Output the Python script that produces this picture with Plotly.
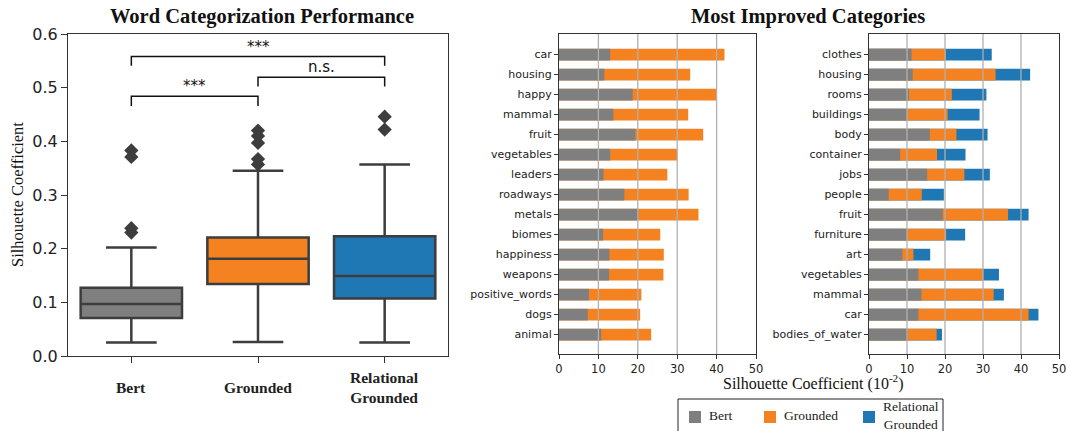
import plotly.graph_objects as go

# ---- Box plot summary statistics (silhouette coefficient) ----
models = ["Bert", "Grounded", "Relational Grounded"]
model_labels = ["Bert", "Grounded", "Relational<br>Grounded"]
box_lower = [0.025, 0.026, 0.025]
box_q1 = [0.071, 0.134, 0.107]
box_median = [0.097, 0.181, 0.149]
box_q3 = [0.127, 0.221, 0.223]
box_upper = [0.202, 0.345, 0.357]
outliers = {
    "Bert": [0.383, 0.371, 0.238, 0.230],
    "Grounded": [0.420, 0.410, 0.397, 0.367, 0.357],
    "Relational Grounded": [0.446, 0.422],
}

# ---- Most improved categories (values in 10^-2) ----
cats_left = ["car", "housing", "happy", "mammal", "fruit", "vegetables", "leaders",
             "roadways", "metals", "biomes", "happiness", "weapons",
             "positive_words", "dogs", "animal"]
bert_left = [13.0, 11.5, 18.7, 13.8, 19.4, 13.0, 11.3, 16.6, 20.1, 11.2, 12.8, 12.7, 7.6, 7.3, 10.7]
grounded_left = [42.0, 33.3, 39.9, 32.8, 36.6, 30.0, 27.5, 32.9, 35.4, 25.7, 26.6, 26.5, 20.9, 20.6, 23.4]

cats_right = ["clothes", "housing", "rooms", "buildings", "body", "container", "jobs",
              "people", "fruit", "furniture", "art", "vegetables", "mammal", "car",
              "bodies_of_water"]
bert_right = [11.2, 11.5, 10.5, 10.0, 16.0, 8.2, 15.3, 5.2, 19.4, 10.0, 8.8, 13.0, 13.8, 13.0, 10.2]
grounded_right = [20.2, 33.3, 21.8, 20.7, 23.0, 17.9, 25.1, 13.9, 36.6, 20.3, 11.7, 30.0, 32.8, 42.0, 17.8]
relational_right = [32.3, 42.4, 30.9, 29.1, 31.2, 25.4, 31.8, 19.7, 42.0, 25.3, 16.1, 34.2, 35.5, 44.6, 19.2]

legend_names = ["Bert", "Grounded", "Relational<br>Grounded"]

GRAY = "#7f7f7f"
ORANGE = "#f58220"
BLUE = "#1f77b4"
EDGE = "#3d3d3d"
SERIF = "Liberation Serif, Times New Roman, serif"
SANS = "DejaVu Sans, sans-serif"
box_colors = [GRAY, ORANGE, BLUE]

fig = go.Figure()

# Box plots built from precomputed quartiles
for m, c, lo, q1, med, q3, hi in zip(models, box_colors, box_lower, box_q1,
                                      box_median, box_q3, box_upper):
    fig.add_trace(go.Box(
        x=[m], lowerfence=[lo], q1=[q1], median=[med], q3=[q3], upperfence=[hi],
        fillcolor=c, line=dict(color=EDGE, width=2.5), width=0.8, whiskerwidth=0.5,
        boxpoints=False, showlegend=False, xaxis="x", yaxis="y", hoverinfo="skip"))

# Outlier markers
for m in models:
    vals = outliers[m]
    fig.add_trace(go.Scatter(
        x=[m] * len(vals), y=vals, mode="markers",
        marker=dict(symbol="diamond", size=11, color=EDGE),
        showlegend=False, xaxis="x", yaxis="y", hoverinfo="skip"))

BAR_W = 0.58


def hbar(cats, vals, color, xa, ya):
    return go.Bar(y=cats, x=vals, orientation="h", width=BAR_W,
                  marker=dict(color=color, line=dict(width=0)),
                  showlegend=False, xaxis=xa, yaxis=ya, hoverinfo="skip")


# Longer bars first, shorter ones overlaid on top
fig.add_trace(hbar(cats_left, grounded_left, ORANGE, "x2", "y2"))
fig.add_trace(hbar(cats_left, bert_left, GRAY, "x2", "y2"))
fig.add_trace(hbar(cats_right, relational_right, BLUE, "x3", "y3"))
fig.add_trace(hbar(cats_right, grounded_right, ORANGE, "x3", "y3"))
fig.add_trace(hbar(cats_right, bert_right, GRAY, "x3", "y3"))

W, H = 1066, 431


def px_x(p):
    return p / W


def px_y(p):
    return (H - p) / H


frame = dict(showline=True, linecolor="#333333", linewidth=1.2, mirror=True,
             ticks="outside", tickcolor="#333333", ticklen=5, zeroline=False,
             showgrid=False, automargin=False, ticklabeloverflow="allow")

bar_y_common = dict(frame, type="category", range=[14.97, -1.03],
                    tickfont=dict(family=SANS, size=11, color="#222"), ticklen=4)
bar_x_common = dict(frame, range=[0, 50], dtick=10, tick0=0,
                    tickfont=dict(family=SANS, size=11.5, color="#222"), ticklen=4)

fig.update_layout(
    width=W, height=H, margin=dict(l=0, r=0, t=0, b=0, pad=0, autoexpand=False),
    paper_bgcolor="white", plot_bgcolor="white",
    barmode="overlay", boxmode="overlay", showlegend=False,
    xaxis=dict(frame, domain=[px_x(68), px_x(448)], type="category",
               categoryorder="array", categoryarray=models, range=[-0.5, 2.5],
               showticklabels=False, ticklen=6),
    yaxis=dict(frame, domain=[px_y(356), px_y(34)], range=[0, 0.6], dtick=0.1,
               tickformat=".1f", tickfont=dict(family=SANS, size=16, color="#222"),
               ticklen=6),
    xaxis2=dict(bar_x_common, domain=[px_x(559), px_x(756)], anchor="y2"),
    yaxis2=dict(bar_y_common, domain=[px_y(354), px_y(34)], anchor="x2",
                categoryorder="array", categoryarray=cats_left),
    xaxis3=dict(bar_x_common, domain=[px_x(869), px_x(1059)], anchor="y3"),
    yaxis3=dict(bar_y_common, domain=[px_y(354), px_y(34)], anchor="x3",
                categoryorder="array", categoryarray=cats_right),
)

# Vertical grid lines drawn over the bars
shapes = []
for xa, ya in (("x2", "y2"), ("x3", "y3")):
    for g in (10, 20, 30, 40):
        shapes.append(dict(type="line", xref=xa, yref=f"{ya} domain", x0=g, x1=g,
                           y0=0, y1=1, line=dict(color="#b0b0b0", width=1.3),
                           layer="above"))

# Significance brackets: (left index, right index, top, leg bottom, label)
brackets = [(0, 1, 0.484, 0.466, "***"),
            (1, 2, 0.5195, 0.502, "n.s."),
            (0, 2, 0.558, 0.541, "***")]
annotations = []
for i0, i1, top, bot, lab in brackets:
    shapes.append(dict(type="path", xref="x", yref="y",
                       path=f"M {i0},{bot} L {i0},{top} L {i1},{top} L {i1},{bot}",
                       line=dict(color="#111", width=1.5)))
    annotations.append(dict(x=(i0 + i1) / 2, y=top, xref="x", yref="y", text=lab,
                            showarrow=False, xanchor="center", yanchor="bottom", yshift=-1,
                            font=dict(family=SANS, size=15, color="#111")))

# Category labels under the boxes
for m, lab in zip(models, model_labels):
    annotations.append(dict(x=m, y=px_y(387), xref="x", yref="paper", text=f"<b>{lab}</b>",
                            showarrow=False, xanchor="center", yanchor="middle",
                            align="center",
                            font=dict(family=SERIF, size=15.5, color="#222")))

annotations += [
    dict(x=px_x(262), y=px_y(17), xref="paper", yref="paper",
         text="<b>Word Categorization Performance</b>", showarrow=False,
         xanchor="center", yanchor="middle",
         font=dict(family=SERIF, size=20.5, color="#111")),
    dict(x=px_x(808), y=px_y(17), xref="paper", yref="paper",
         text="<b>Most Improved Categories</b>", showarrow=False,
         xanchor="center", yanchor="middle",
         font=dict(family=SERIF, size=20.5, color="#111")),
    dict(x=px_x(17), y=px_y(195), xref="paper", yref="paper",
         text="Silhouette Coefficient", textangle=-90, showarrow=False,
         xanchor="center", yanchor="middle",
         font=dict(family=SERIF, size=16.5, color="#111")),
    dict(x=px_x(813), y=px_y(382), xref="paper", yref="paper",
         text="Silhouette Coefficient (10<sup>-2</sup>)", showarrow=False,
         xanchor="center", yanchor="middle",
         font=dict(family=SERIF, size=16, color="#111")),
]

# Legend box below the bar charts (runs past the bottom edge)
shapes.append(dict(type="rect", xref="paper", yref="paper",
                   x0=px_x(678), x1=px_x(943), y0=px_y(445), y1=px_y(399),
                   line=dict(color="#222", width=1), fillcolor="white"))
legend_swatch_x = [689, 764, 863]
for sx, name, col in zip(legend_swatch_x, legend_names, box_colors):
    shapes.append(dict(type="rect", xref="paper", yref="paper",
                       x0=px_x(sx), x1=px_x(sx + 12), y0=px_y(423), y1=px_y(411),
                       line=dict(width=0), fillcolor=col))
    annotations.append(dict(x=px_x(sx + 18), y=px_y(415), xref="paper", yref="paper",
                            text=name, showarrow=False, xanchor="left",
                            yanchor="middle", align="center",
                            font=dict(family=SERIF, size=13.5, color="#222")))

fig.update_layout(shapes=shapes, annotations=annotations)

fig.write_html("out.html")
